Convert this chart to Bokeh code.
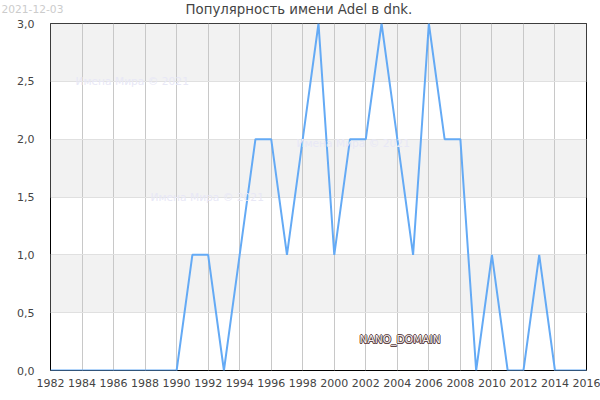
from bokeh.plotting import figure
from bokeh.models import FixedTicker, ColumnDataSource, Label, CustomJSTickFormatter, BoxAnnotation
from bokeh.embed import file_html
from bokeh.resources import INLINE

years = list(range(1982, 2017))
counts = [0, 0, 0, 0, 0, 0, 0, 0, 0, 1, 1, 0, 1, 2, 2, 1, 2, 3, 1, 2, 2, 3, 2, 1, 3, 2, 2, 0, 1, 0, 0, 1, 0, 0, 0]
x_ticks = list(range(1982, 2017, 2))
y_ticks = [0, 0.5, 1, 1.5, 2, 2.5, 3]
bands = [(0.5, 1), (1.5, 2), (2.5, 3)]

title = "Популярность имени Adel в dnk."
stamp = "2021-12-03"
watermark = "Имена Мира © 2021"
nano = "NANO_DOMAIN"
FONT = "DejaVu Sans"

p = figure(width=600, height=400, output_backend="svg", toolbar_location=None,
           x_range=(1982, 2016), y_range=(0, 3), margin=0, title=title,
           min_border_left=50, min_border_right=14, min_border_top=23, min_border_bottom=30)

p.title.align = "left"
p.title.offset = 135
p.title.standoff = -3
p.title.text_font = FONT
p.title.text_font_size = "10pt"
p.title.text_font_style = "normal"
p.title.text_color = "#444444"

# date stamp in the top corner, hung on the panel above the frame
p.add_layout(Label(x=-49, y=15, x_units="screen", y_units="screen", text=stamp, text_font=FONT,
                   text_font_size="8pt", text_color="#cccccc", text_baseline="alphabetic"), "above")

p.outline_line_color = "black"
p.outline_line_width = 1
p.background_fill_color = "white"

for low, high in bands:
    p.add_layout(BoxAnnotation(bottom=low, top=high, fill_color="#f2f2f2", fill_alpha=1, line_alpha=0, level="image"))

p.xaxis.ticker = FixedTicker(ticks=x_ticks)
p.yaxis.ticker = FixedTicker(ticks=y_ticks)
p.yaxis.formatter = CustomJSTickFormatter(code="return tick.toFixed(1).replace('.', ',')")
p.xaxis.formatter = CustomJSTickFormatter(code="return String(tick)")
for ax in [p.xaxis, p.yaxis]:
    ax.axis_line_color = None
    ax.major_tick_line_color = None
    ax.minor_tick_line_color = None
    ax.major_label_text_font = FONT
    ax.major_label_text_font_size = "11px"
    ax.major_label_text_color = "#444444"
p.xaxis.major_label_standoff = 2
p.yaxis.major_label_standoff = 10

p.xgrid.ticker = FixedTicker(ticks=x_ticks)
p.xgrid.grid_line_color = "#c8c8c8"
p.xgrid.grid_line_width = 1
p.ygrid.ticker = FixedTicker(ticks=y_ticks)
p.ygrid.grid_line_color = "#e0e0e0"
p.ygrid.grid_line_width = 1

src = ColumnDataSource(data=dict(year=years, count=counts))
p.line(x="year", y="count", source=src, line_color="#64aaf5", line_width=2)

# screen units count from the frame's lower left corner
def screen_text(txt, x, y, color, size):
    p.add_layout(Label(x=x, y=y, x_units="screen", y_units="screen", text=txt,
                       text_font=FONT, text_font_size=size, text_color=color,
                       text_baseline="alphabetic"))

screen_text(watermark, 25, 289, "#e8e8f6", "8pt")
screen_text(watermark, 100, 173, "#e8e8f6", "8pt")
screen_text(watermark, 246, 227, "#e8e8f6", "8pt")

# outlined text: dark copies round a pale one
for dx, dy in [(-0.7, 0), (0.7, 0), (0, -0.7), (0, 0.7), (-0.5, -0.5), (0.5, 0.5), (-0.5, 0.5), (0.5, -0.5)]:
    screen_text(nano, 309 + dx, 31 + dy, "#5f4646", "8pt")
screen_text(nano, 309, 31, "#f4eeee", "8pt")

open("out.html", "w").write(file_html(p, INLINE))
